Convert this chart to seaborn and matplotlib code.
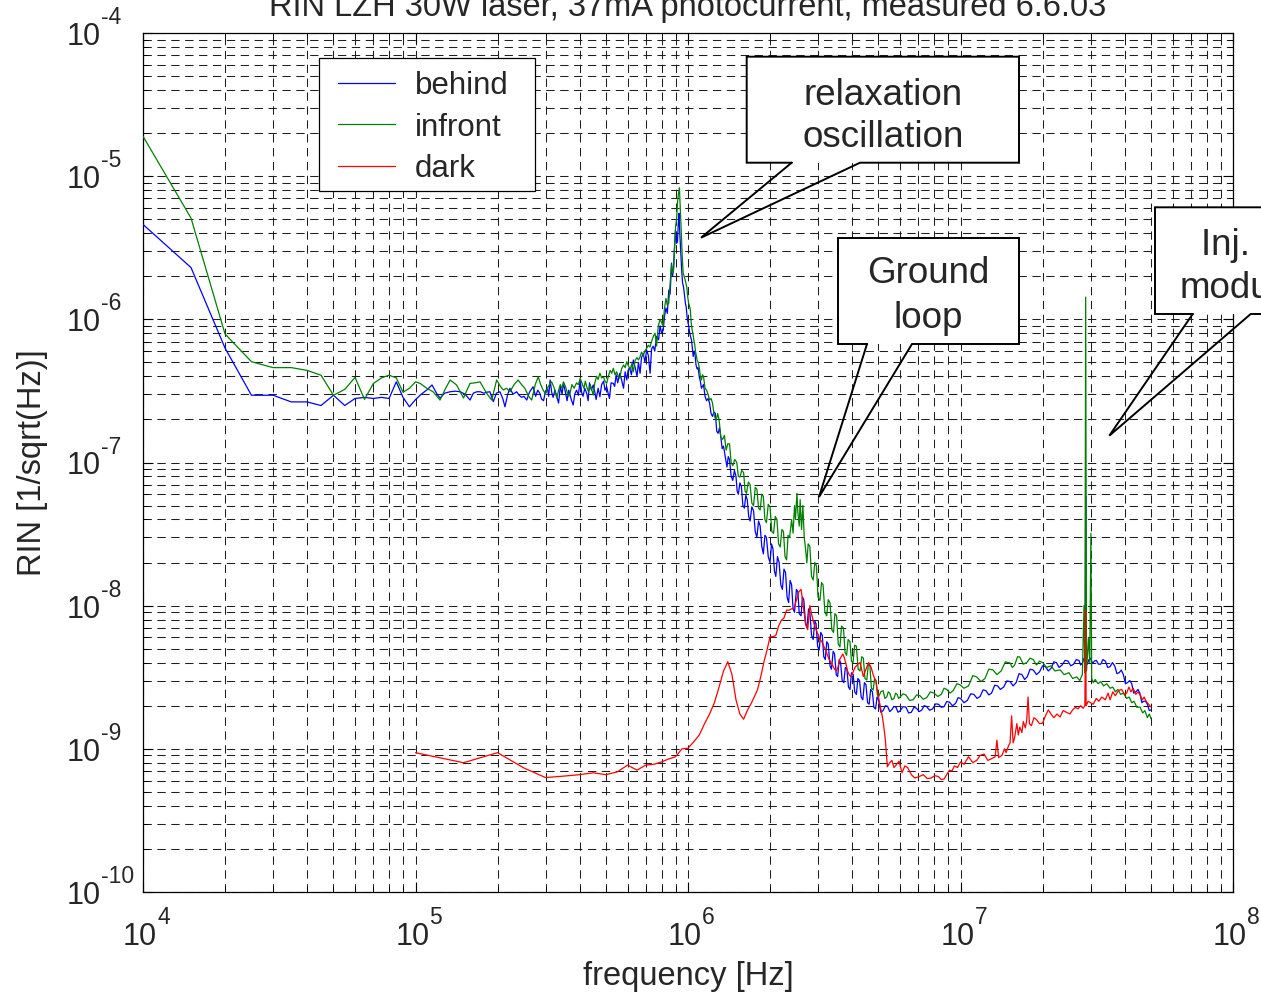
import numpy as np
import pandas as pd
import matplotlib
matplotlib.use("Agg")
import matplotlib.pyplot as plt
import seaborn as sns
from matplotlib.ticker import LogLocator, NullFormatter
from matplotlib.patches import Rectangle
from matplotlib.lines import Line2D
from matplotlib.transforms import blended_transform_factory, offset_copy

# ---------------- texts ----------------
TITLE = "RIN LZH 30W laser, 37mA photocurrent, measured 6.6.03"
XLABEL = "frequency [Hz]"
YLABEL = "RIN [1/sqrt(Hz)]"
SERIES = ["behind", "infront", "dark"]
COLORS = {"behind": "#0000ff", "infront": "#008000", "dark": "#ff0000"}
CALLOUT_RELAX = ["relaxation", "oscillation"]
CALLOUT_GROUND = ["Ground", "loop"]
CALLOUT_INJ = ["Inj. locking", "modulation"]

# ---------------- data: (frequency [Hz], RIN [1/sqrt(Hz)]) ----------------
behind = [
    (1.0e4, 4.6e-6), (1.5e4, 2.3e-6), (2.0e4, 6.3e-7), (2.5e4, 2.95e-7), (3.0e4, 2.95e-7), (3.5e4, 2.65e-7),
    (4.0e4, 2.65e-7), (4.5e4, 2.5e-7), (5.0e4, 2.95e-7), (5.5e4, 2.5e-7), (6.0e4, 2.8e-7), (6.5e4, 2.85e-7),
    (7.0e4, 2.8e-7), (7.5e4, 2.85e-7), (8.0e4, 2.8e-7), (8.5e4, 3.66e-7), (9.0e4, 2.85e-7), (9.5e4, 2.45e-7),
    (1.0e5, 2.75e-7), (1.05e5, 3.0e-7), (1.10e5, 3.21e-7), (1.15e5, 3.48e-7), (1.20e5, 3.0e-7), (1.23e5, 2.82e-7),
    (1.28e5, 3.05e-7), (1.34e5, 3.12e-7), (1.40e5, 3.15e-7), (1.46e5, 3.12e-7), (1.52e5, 3.0e-7), (1.585e5, 2.73e-7),
    (1.63e5, 3.05e-7), (1.68e5, 3.12e-7), (1.73e5, 3.12e-7), (1.78e5, 3.05e-7), (1.83e5, 3.1e-7), (1.875e5, 3.12e-7),
    (1.93e5, 2.66e-7), (1.98e5, 3.05e-7), (2.04e5, 3.12e-7), (2.09e5, 2.8e-7), (2.13e5, 2.45e-7), (2.18e5, 3.0e-7),
    (2.22e5, 3.3e-7), (2.28e5, 3.0e-7), (2.35e5, 3.12e-7), (2.40e5, 2.95e-7), (2.45e5, 2.85e-7), (2.50e5, 2.9e-7),
    (2.56e5, 2.73e-7), (2.62e5, 3.1e-7), (2.70e5, 3.38e-7), (2.76e5, 2.9e-7), (2.81e5, 3.2e-7), (2.86e5, 3.04e-7),
    (2.90e5, 2.78e-7), (2.95e5, 2.7e-7), (3.00e5, 3.15e-7), (3.05e5, 3.3e-7), (3.08e5, 2.9e-7), (3.12e5, 3.77e-7),
    (3.16e5, 3.1e-7), (3.20e5, 2.85e-7), (3.25e5, 3.2e-7), (3.30e5, 2.88e-7), (3.35e5, 2.6e-7), (3.40e5, 3.4e-7),
    (3.45e5, 3.0e-7), (3.49e5, 3.57e-7), (3.55e5, 3.1e-7), (3.60e5, 2.7e-7), (3.65e5, 3.2e-7), (3.69e5, 2.96e-7),
    (3.74e5, 2.7e-7), (3.79e5, 2.52e-7), (3.84e5, 3.0e-7), (3.90e5, 3.2e-7), (3.96e5, 2.95e-7), (4.02e5, 3.77e-7),
    (4.07e5, 3.1e-7), (4.12e5, 2.9e-7), (4.18e5, 3.3e-7), (4.25e5, 3.04e-7), (4.30e5, 2.7e-7), (4.35e5, 3.6e-7),
    (4.42e5, 3.2e-7), (4.49e5, 3.48e-7), (4.55e5, 3.1e-7), (4.60e5, 2.75e-7), (4.68e5, 3.3e-7), (4.75e5, 2.88e-7),
    (4.82e5, 3.5e-7), (4.90e5, 3.7e-7), (4.96e5, 3.2e-7), (5.03e5, 3.38e-7), (5.10e5, 3.0e-7), (5.15e5, 2.8e-7),
    (5.22e5, 3.6e-7), (5.32e5, 3.57e-7), (5.38e5, 3.4e-7), (5.45e5, 4.1e-7), (5.52e5, 3.6e-7), (5.62e5, 4.2e-7),
    (5.70e5, 3.8e-7), (5.80e5, 3.3e-7), (5.88e5, 4.3e-7), (5.96e5, 3.77e-7), (6.03e5, 4.4e-7), (6.10e5, 4.6e-7),
    (6.20e5, 4.1e-7), (6.30e5, 5.2e-7), (6.40e5, 4.6e-7), (6.50e5, 4.0e-7), (6.58e5, 5.0e-7), (6.67e5, 4.2e-7),
    (6.75e5, 5.4e-7), (6.85e5, 5.8e-7), (6.95e5, 5.0e-7), (7.05e5, 6.1e-7), (7.15e5, 5.6e-7), (7.26e5, 4.2e-7),
    (7.35e5, 6.2e-7), (7.45e5, 6.5e-7), (7.55e5, 6.0e-7), (7.67e5, 7.6e-7), (7.80e5, 7.2e-7), (7.90e5, 9.0e-7),
    (8.00e5, 8.0e-7), (8.11e5, 8.4e-7), (8.20e5, 1.05e-6), (8.30e5, 1.2e-6), (8.40e5, 1.1e-6), (8.50e5, 1.6e-6),
    (8.60e5, 1.5e-6), (8.70e5, 2.47e-6), (8.78e5, 2.0e-6), (8.85e5, 2.3e-6), (8.92e5, 3.2e-6), (9.00e5, 4.2e-6),
    (9.08e5, 3.4e-6), (9.15e5, 3.5e-6), (9.22e5, 4.8e-6), (9.27e5, 5.5e-6), (9.33e5, 4.0e-6), (9.40e5, 3.0e-6),
    (9.48e5, 2.2e-6), (9.55e5, 1.8e-6), (9.62e5, 1.7e-6), (9.70e5, 1.5e-6), (9.78e5, 1.3e-6), (9.85e5, 1.22e-6),
    (9.92e5, 1.05e-6), (1.00e6, 9.5e-7), (1.008e6, 8.8e-7), (1.015e6, 8.0e-7), (1.023e6, 7.5e-7), (1.03e6, 7.2e-7),
    (1.038e6, 6.2e-7), (1.045e6, 5.5e-7), (1.053e6, 6.0e-7), (1.06e6, 5.8e-7), (1.07e6, 4.8e-7), (1.08e6, 4.5e-7),
    (1.09e6, 4.6e-7), (1.10e6, 3.95e-7), (1.11e6, 3.7e-7), (1.12e6, 3.3e-7), (1.13e6, 3.4e-7), (1.14e6, 3.5e-7),
    (1.155e6, 2.9e-7), (1.17e6, 2.7e-7), (1.185e6, 2.8e-7), (1.20e6, 2.6e-7), (1.215e6, 2.2e-7), (1.23e6, 2.1e-7),
    (1.245e6, 2.25e-7), (1.26e6, 2.2e-7), (1.275e6, 1.65e-7), (1.29e6, 1.6e-7), (1.305e6, 1.75e-7), (1.32e6, 1.5e-7),
    (1.335e6, 1.25e-7), (1.35e6, 1.3e-7), (1.37e6, 1.1e-7), (1.39e6, 9.3e-8), (1.405e6, 1.1e-7), (1.42e6, 1.05e-7),
    (1.44e6, 8.0e-8), (1.46e6, 7.5e-8), (1.48e6, 8.8e-8), (1.50e6, 8.0e-8), (1.515e6, 6.3e-8), (1.53e6, 6.0e-8),
    (1.55e6, 7.2e-8), (1.57e6, 6.8e-8), (1.59e6, 5.0e-8), (1.61e6, 4.8e-8), (1.63e6, 5.9e-8), (1.65e6, 5.5e-8),
    (1.67e6, 4.2e-8), (1.69e6, 3.9e-8), (1.715e6, 4.9e-8), (1.74e6, 4.6e-8), (1.765e6, 3.3e-8), (1.79e6, 3.0e-8),
    (1.815e6, 3.9e-8), (1.84e6, 3.6e-8), (1.865e6, 2.6e-8), (1.89e6, 2.3e-8), (1.915e6, 3.1e-8), (1.94e6, 3.0e-8),
    (1.97e6, 2.2e-8), (2.00e6, 2.0e-8), (2.025e6, 2.7e-8), (2.05e6, 2.5e-8), (2.075e6, 1.75e-8), (2.10e6, 1.6e-8),
    (2.13e6, 2.2e-8), (2.16e6, 2.0e-8), (2.19e6, 1.4e-8), (2.22e6, 1.3e-8), (2.25e6, 1.8e-8), (2.28e6, 1.7e-8),
    (2.31e6, 1.15e-8), (2.34e6, 1.05e-8), (2.37e6, 1.5e-8), (2.40e6, 1.4e-8), (2.43e6, 9.5e-9), (2.46e6, 9.0e-9),
    (2.50e6, 1.3e-8), (2.53e6, 1.25e-8), (2.56e6, 8.8e-9), (2.60e6, 8.5e-9), (2.63e6, 1.15e-8), (2.66e6, 1.1e-8),
    (2.70e6, 7.5e-9), (2.73e6, 7.0e-9), (2.77e6, 9.5e-9), (2.80e6, 9.0e-9), (2.84e6, 6.2e-9), (2.88e6, 5.8e-9),
    (2.92e6, 7.8e-9), (2.95e6, 7.5e-9), (2.99e6, 5.2e-9), (3.03e6, 4.9e-9), (3.07e6, 6.5e-9), (3.11e6, 6.2e-9),
    (3.15e6, 4.4e-9), (3.19e6, 4.2e-9), (3.23e6, 5.6e-9), (3.27e6, 5.4e-9), (3.32e6, 3.8e-9), (3.36e6, 3.6e-9),
    (3.41e6, 4.8e-9), (3.45e6, 4.6e-9), (3.50e6, 3.3e-9), (3.54e6, 3.2e-9), (3.59e6, 4.2e-9), (3.63e6, 4.0e-9),
    (3.68e6, 3.0e-9), (3.73e6, 2.9e-9), (3.78e6, 3.7e-9), (3.83e6, 3.6e-9), (3.88e6, 2.7e-9), (3.93e6, 2.6e-9),
    (3.98e6, 3.4e-9), (4.04e6, 3.3e-9), (4.09e6, 2.5e-9), (4.15e6, 2.4e-9), (4.20e6, 3.1e-9), (4.26e6, 3.0e-9),
    (4.32e6, 2.3e-9), (4.38e6, 2.2e-9), (4.44e6, 2.9e-9), (4.50e6, 2.8e-9), (4.56e6, 2.1e-9), (4.62e6, 2.05e-9),
    (4.68e6, 2.6e-9), (4.75e6, 2.5e-9), (4.81e6, 1.95e-9), (4.88e6, 1.9e-9), (4.94e6, 2.3e-9), (5.00e6, 2.2e-9),
    (5.1e6, 1.8e-9), (5.2e6, 1.85e-9), (5.3e6, 2.0e-9), (5.4e6, 1.98e-9), (5.5e6, 1.82e-9), (5.6e6, 1.88e-9),
    (5.7e6, 1.98e-9), (5.8e6, 1.95e-9), (5.9e6, 1.8e-9), (6.0e6, 1.84e-9), (6.15e6, 1.97e-9), (6.3e6, 1.96e-9),
    (6.45e6, 1.78e-9), (6.6e6, 1.8e-9), (6.75e6, 1.95e-9), (6.9e6, 1.92e-9), (7.05e6, 1.82e-9), (7.2e6, 1.86e-9),
    (7.35e6, 2.0e-9), (7.5e6, 1.98e-9), (7.7e6, 1.86e-9), (7.9e6, 1.9e-9), (8.1e6, 2.06e-9), (8.3e6, 2.05e-9),
    (8.5e6, 1.95e-9), (8.7e6, 1.97e-9), (8.9e6, 2.14e-9), (9.1e6, 2.12e-9), (9.35e6, 2.0e-9), (9.6e6, 2.08e-9),
    (9.8e6, 2.28e-9), (1.0e7, 2.25e-9), (1.03e7, 2.1e-9), (1.06e7, 2.18e-9), (1.09e7, 2.42e-9), (1.12e7, 2.4e-9),
    (1.15e7, 2.25e-9), (1.18e7, 2.32e-9), (1.21e7, 2.58e-9), (1.24e7, 2.55e-9), (1.27e7, 2.38e-9), (1.30e7, 2.45e-9),
    (1.335e7, 2.78e-9), (1.37e7, 2.75e-9), (1.40e7, 2.6e-9), (1.44e7, 2.7e-9), (1.48e7, 2.98e-9), (1.52e7, 2.95e-9),
    (1.56e7, 2.75e-9), (1.60e7, 2.9e-9), (1.64e7, 3.35e-9), (1.68e7, 3.3e-9), (1.72e7, 3.05e-9), (1.76e7, 3.2e-9),
    (1.80e7, 3.6e-9), (1.85e7, 3.55e-9), (1.90e7, 3.3e-9), (1.95e7, 3.45e-9), (2.0e7, 3.8e-9), (2.05e7, 3.75e-9),
    (2.10e7, 3.5e-9), (2.15e7, 3.65e-9), (2.20e7, 4.05e-9), (2.25e7, 4.0e-9), (2.30e7, 3.7e-9), (2.36e7, 3.85e-9),
    (2.42e7, 4.15e-9), (2.48e7, 4.1e-9), (2.54e7, 3.8e-9), (2.60e7, 3.9e-9), (2.66e7, 4.2e-9), (2.72e7, 4.15e-9),
    (2.76e7, 3.85e-9), (2.80e7, 3.95e-9), (2.84e7, 4.3e-9), (2.87e7, 4.0e-9), (2.88e7, 5.8e-8), (2.89e7, 4.1e-9),
    (2.92e7, 3.9e-9), (2.96e7, 4.2e-9), (3.00e7, 4.3e-9), (3.05e7, 3.95e-9), (3.10e7, 4.1e-9), (3.15e7, 4.15e-9),
    (3.21e7, 3.9e-9), (3.27e7, 3.9e-9), (3.33e7, 4.2e-9), (3.40e7, 4.1e-9), (3.47e7, 3.7e-9), (3.54e7, 3.75e-9),
    (3.61e7, 4.0e-9), (3.68e7, 3.8e-9), (3.75e7, 3.35e-9), (3.82e7, 3.4e-9), (3.89e7, 3.55e-9), (3.96e7, 3.3e-9),
    (4.03e7, 2.85e-9), (4.10e7, 2.9e-9), (4.18e7, 3.0e-9), (4.25e7, 2.85e-9), (4.32e7, 2.45e-9), (4.40e7, 2.5e-9),
    (4.48e7, 2.6e-9), (4.55e7, 2.45e-9), (4.63e7, 2.1e-9), (4.70e7, 2.15e-9), (4.78e7, 2.15e-9), (4.85e7, 2.05e-9),
    (4.93e7, 1.85e-9), (5.0e7, 1.87e-9),
]

infront = [
    (1.0e4, 1.9e-5), (1.5e4, 5.1e-6), (2.0e4, 7.9e-7), (2.5e4, 5.06e-7), (3.0e4, 4.6e-7), (3.5e4, 4.6e-7),
    (4.0e4, 4.4e-7), (4.5e4, 4.07e-7), (5.0e4, 2.95e-7), (5.5e4, 3.24e-7), (6.0e4, 3.93e-7), (6.5e4, 2.76e-7),
    (7.0e4, 3.56e-7), (7.5e4, 3.9e-7), (8.0e4, 4.07e-7), (8.5e4, 3.9e-7), (9.0e4, 3.1e-7), (9.5e4, 3.3e-7),
    (1.0e5, 3.66e-7), (1.04e5, 3.57e-7), (1.10e5, 3.3e-7), (1.16e5, 3.12e-7), (1.23e5, 2.73e-7), (1.29e5, 3.3e-7),
    (1.34e5, 3.77e-7), (1.415e5, 3.48e-7), (1.50e5, 2.82e-7), (1.585e5, 3.57e-7), (1.65e5, 3.6e-7), (1.725e5, 3.66e-7),
    (1.825e5, 3.04e-7), (1.905e5, 2.73e-7), (1.985e5, 3.77e-7), (2.05e5, 3.4e-7), (2.10e5, 3.21e-7), (2.16e5, 3.3e-7),
    (2.22e5, 3.12e-7), (2.30e5, 3.5e-7), (2.38e5, 3.77e-7), (2.45e5, 3.5e-7), (2.52e5, 3.3e-7), (2.60e5, 2.9e-7),
    (2.67e5, 2.73e-7), (2.75e5, 3.5e-7), (2.82e5, 3.97e-7), (2.88e5, 3.5e-7), (2.94e5, 3.21e-7), (3.00e5, 3.0e-7),
    (3.05e5, 3.3e-7), (3.10e5, 3.5e-7), (3.16e5, 3.66e-7), (3.23e5, 3.3e-7), (3.30e5, 2.82e-7), (3.35e5, 3.2e-7),
    (3.40e5, 3.5e-7), (3.45e5, 3.3e-7), (3.49e5, 3.66e-7), (3.55e5, 3.4e-7), (3.60e5, 3.1e-7), (3.65e5, 2.9e-7),
    (3.69e5, 3.04e-7), (3.75e5, 3.5e-7), (3.82e5, 3.3e-7), (3.90e5, 3.6e-7), (3.96e5, 3.5e-7), (4.02e5, 3.87e-7),
    (4.08e5, 3.6e-7), (4.15e5, 3.3e-7), (4.20e5, 3.7e-7), (4.25e5, 3.38e-7), (4.32e5, 3.1e-7), (4.38e5, 3.5e-7),
    (4.44e5, 3.2e-7), (4.49e5, 2.96e-7), (4.55e5, 3.6e-7), (4.62e5, 4.0e-7), (4.68e5, 3.8e-7), (4.75e5, 4.2e-7),
    (4.82e5, 3.9e-7), (4.90e5, 3.95e-7), (4.96e5, 3.7e-7), (5.03e5, 3.57e-7), (5.10e5, 4.0e-7), (5.18e5, 4.4e-7),
    (5.25e5, 4.2e-7), (5.32e5, 4.55e-7), (5.40e5, 4.1e-7), (5.47e5, 4.3e-7), (5.55e5, 4.0e-7), (5.62e5, 3.87e-7),
    (5.70e5, 4.5e-7), (5.80e5, 4.8e-7), (5.88e5, 4.6e-7), (5.96e5, 5.06e-7), (6.05e5, 4.7e-7), (6.15e5, 4.5e-7),
    (6.22e5, 4.9e-7), (6.30e5, 4.3e-7), (6.40e5, 5.2e-7), (6.50e5, 5.4e-7), (6.58e5, 5.2e-7), (6.67e5, 5.48e-7),
    (6.75e5, 5.9e-7), (6.85e5, 5.6e-7), (6.95e5, 6.0e-7), (7.05e5, 6.27e-7), (7.15e5, 6.6e-7), (7.25e5, 6.4e-7),
    (7.35e5, 7.0e-7), (7.46e5, 7.6e-7), (7.57e5, 8.0e-7), (7.67e5, 6.5e-7), (7.78e5, 9.0e-7), (7.90e5, 1.0e-6),
    (8.00e5, 9.5e-7), (8.10e5, 9.0e-7), (8.20e5, 1.2e-6), (8.30e5, 1.4e-6), (8.40e5, 1.25e-6), (8.50e5, 1.3e-6),
    (8.60e5, 1.8e-6), (8.70e5, 2.4e-6), (8.78e5, 2.1e-6), (8.85e5, 2.2e-6), (8.92e5, 3.0e-6), (9.00e5, 4.4e-6),
    (9.08e5, 5.0e-6), (9.15e5, 6.5e-6), (9.22e5, 7.5e-6), (9.30e5, 8.3e-6), (9.37e5, 6.0e-6), (9.45e5, 4.0e-6),
    (9.52e5, 2.8e-6), (9.60e5, 2.1e-6), (9.68e5, 2.0e-6), (9.75e5, 1.9e-6), (9.82e5, 1.8e-6), (9.90e5, 1.68e-6),
    (9.97e5, 1.45e-6), (1.005e6, 1.3e-6), (1.012e6, 1.25e-6), (1.02e6, 1.16e-6), (1.027e6, 9.5e-7), (1.035e6, 8.5e-7),
    (1.042e6, 8.0e-7), (1.05e6, 7.2e-7), (1.057e6, 6.8e-7), (1.065e6, 6.0e-7), (1.072e6, 5.6e-7), (1.08e6, 5.2e-7),
    (1.09e6, 5.0e-7), (1.10e6, 4.6e-7), (1.11e6, 4.0e-7), (1.12e6, 3.77e-7), (1.13e6, 4.1e-7), (1.14e6, 4.0e-7),
    (1.155e6, 3.3e-7), (1.17e6, 3.2e-7), (1.185e6, 3.0e-7), (1.20e6, 2.73e-7), (1.215e6, 2.8e-7), (1.23e6, 2.6e-7),
    (1.25e6, 2.1e-7), (1.27e6, 1.98e-7), (1.285e6, 2.2e-7), (1.30e6, 2.0e-7), (1.32e6, 1.5e-7), (1.34e6, 1.45e-7),
    (1.36e6, 1.55e-7), (1.38e6, 1.22e-7), (1.40e6, 1.35e-7), (1.42e6, 1.35e-7), (1.44e6, 1.0e-7), (1.46e6, 9.5e-8),
    (1.485e6, 1.05e-7), (1.51e6, 1.0e-7), (1.53e6, 8.0e-8), (1.55e6, 7.9e-8), (1.575e6, 8.8e-8), (1.60e6, 8.5e-8),
    (1.62e6, 6.3e-8), (1.64e6, 6.1e-8), (1.665e6, 7.3e-8), (1.69e6, 7.0e-8), (1.715e6, 5.2e-8), (1.74e6, 5.0e-8),
    (1.765e6, 6.7e-8), (1.79e6, 6.5e-8), (1.815e6, 4.8e-8), (1.84e6, 4.66e-8), (1.865e6, 6.0e-8), (1.89e6, 5.8e-8),
    (1.915e6, 4.0e-8), (1.94e6, 3.8e-8), (1.97e6, 5.1e-8), (2.00e6, 4.9e-8), (2.03e6, 3.3e-8), (2.06e6, 3.2e-8),
    (2.09e6, 4.2e-8), (2.12e6, 4.0e-8), (2.15e6, 2.7e-8), (2.18e6, 2.57e-8), (2.21e6, 3.4e-8), (2.24e6, 3.3e-8),
    (2.27e6, 2.2e-8), (2.30e6, 2.09e-8), (2.33e6, 3.1e-8), (2.36e6, 3.0e-8), (2.40e6, 4.0e-8), (2.43e6, 3.21e-8),
    (2.46e6, 5.0e-8), (2.48e6, 4.0e-8), (2.51e6, 6.1e-8), (2.53e6, 4.5e-8), (2.56e6, 3.6e-8), (2.58e6, 5.5e-8),
    (2.61e6, 3.4e-8), (2.64e6, 5.0e-8), (2.67e6, 3.0e-8), (2.70e6, 2.5e-8), (2.73e6, 1.99e-8), (2.76e6, 2.7e-8),
    (2.80e6, 2.6e-8), (2.84e6, 1.6e-8), (2.88e6, 1.51e-8), (2.92e6, 2.0e-8), (2.96e6, 1.9e-8), (3.00e6, 1.15e-8),
    (3.05e6, 1.09e-8), (3.09e6, 1.45e-8), (3.13e6, 1.4e-8), (3.18e6, 9.0e-9), (3.23e6, 8.5e-9), (3.27e6, 1.1e-8),
    (3.32e6, 1.05e-8), (3.37e6, 6.8e-9), (3.42e6, 6.5e-9), (3.46e6, 8.8e-9), (3.51e6, 8.5e-9), (3.56e6, 5.4e-9),
    (3.61e6, 5.15e-9), (3.66e6, 7.2e-9), (3.72e6, 7.0e-9), (3.77e6, 4.7e-9), (3.82e6, 4.5e-9), (3.87e6, 5.8e-9),
    (3.93e6, 5.6e-9), (3.98e6, 4.1e-9), (4.03e6, 3.98e-9), (4.09e6, 5.3e-9), (4.15e6, 5.2e-9), (4.21e6, 3.6e-9),
    (4.28e6, 3.5e-9), (4.34e6, 4.4e-9), (4.40e6, 4.3e-9), (4.46e6, 3.1e-9), (4.53e6, 3.03e-9), (4.59e6, 3.9e-9),
    (4.65e6, 3.8e-9), (4.71e6, 2.65e-9), (4.78e6, 2.58e-9), (4.84e6, 3.1e-9), (4.90e6, 3.0e-9), (4.95e6, 2.4e-9),
    (5.0e6, 2.3e-9), (5.1e6, 2.5e-9), (5.2e6, 2.55e-9), (5.28e6, 2.25e-9), (5.36e6, 2.3e-9), (5.43e6, 2.5e-9),
    (5.5e6, 2.45e-9), (5.6e6, 2.2e-9), (5.7e6, 2.25e-9), (5.78e6, 2.45e-9), (5.85e6, 2.4e-9), (5.93e6, 2.25e-9),
    (6.0e6, 2.3e-9), (6.15e6, 2.42e-9), (6.3e6, 2.38e-9), (6.5e6, 2.18e-9), (6.7e6, 2.2e-9), (6.9e6, 2.38e-9),
    (7.1e6, 2.35e-9), (7.3e6, 2.22e-9), (7.52e6, 2.28e-9), (7.75e6, 2.5e-9), (8.0e6, 2.45e-9), (8.25e6, 2.32e-9),
    (8.5e6, 2.4e-9), (8.7e6, 2.65e-9), (8.9e6, 2.6e-9), (9.15e6, 2.45e-9), (9.4e6, 2.55e-9), (9.7e6, 2.85e-9),
    (9.96e6, 2.8e-9), (1.03e7, 2.65e-9), (1.07e7, 2.75e-9), (1.11e7, 3.25e-9), (1.146e7, 3.18e-9), (1.19e7, 2.95e-9),
    (1.23e7, 3.1e-9), (1.27e7, 3.6e-9), (1.315e7, 3.56e-9), (1.36e7, 3.3e-9), (1.41e7, 3.5e-9), (1.46e7, 4.05e-9),
    (1.52e7, 3.98e-9), (1.55e7, 3.7e-9), (1.58e7, 3.85e-9), (1.62e7, 4.4e-9), (1.65e7, 4.38e-9), (1.70e7, 3.9e-9),
    (1.75e7, 4.0e-9), (1.80e7, 4.3e-9), (1.85e7, 4.2e-9), (1.90e7, 3.85e-9), (1.95e7, 4.1e-9), (2.01e7, 3.98e-9),
    (2.07e7, 3.7e-9), (2.15e7, 3.8e-9), (2.22e7, 3.5e-9), (2.32e7, 3.56e-9), (2.40e7, 3.3e-9), (2.50e7, 3.4e-9),
    (2.58e7, 3.1e-9), (2.67e7, 3.18e-9), (2.74e7, 3.0e-9), (2.80e7, 3.3e-9), (2.84e7, 1.0e-8), (2.86e7, 3.4e-9),
    (2.88e7, 1.43e-6), (2.90e7, 3.5e-9), (2.95e7, 6.0e-9), (2.98e7, 4.0e-9), (3.01e7, 3.2e-8), (3.03e7, 3.1e-9),
    (3.07e7, 2.9e-9), (3.12e7, 3.05e-9), (3.20e7, 2.85e-9), (3.27e7, 2.95e-9), (3.35e7, 2.75e-9), (3.44e7, 2.85e-9),
    (3.54e7, 2.65e-9), (3.62e7, 2.7e-9), (3.70e7, 2.5e-9), (3.78e7, 2.6e-9), (3.87e7, 2.4e-9), (3.96e7, 2.45e-9),
    (4.07e7, 2.25e-9), (4.16e7, 2.3e-9), (4.25e7, 2.1e-9), (4.33e7, 2.15e-9), (4.44e7, 1.95e-9), (4.56e7, 1.96e-9),
    (4.66e7, 1.78e-9), (4.75e7, 1.85e-9), (4.85e7, 1.65e-9), (4.93e7, 1.75e-9), (5.0e7, 1.62e-9),
]

dark = [
    (1.0e5, 9.4e-10), (1.5e5, 8.0e-10), (2.0e5, 9.4e-10), (2.5e5, 7.35e-10), (3.0e5, 6.3e-10), (3.5e5, 6.45e-10),
    (4.0e5, 6.6e-10), (4.5e5, 6.8e-10), (5.0e5, 6.6e-10), (5.5e5, 6.9e-10), (6.0e5, 7.7e-10), (6.5e5, 7.1e-10),
    (7.0e5, 7.7e-10), (7.5e5, 7.8e-10), (8.0e5, 8.1e-10), (8.5e5, 8.5e-10), (9.0e5, 8.8e-10), (9.5e5, 1.0e-9),
    (1.0e6, 1.01e-9), (1.05e6, 1.12e-9), (1.1e6, 1.25e-9), (1.15e6, 1.5e-9), (1.2e6, 1.75e-9), (1.25e6, 2.1e-9),
    (1.3e6, 2.7e-9), (1.35e6, 3.5e-9), (1.4e6, 4.06e-9), (1.45e6, 3.3e-9), (1.5e6, 2.2e-9), (1.55e6, 1.75e-9),
    (1.6e6, 1.61e-9), (1.65e6, 1.85e-9), (1.7e6, 2.05e-9), (1.75e6, 2.3e-9), (1.8e6, 2.6e-9), (1.85e6, 3.2e-9),
    (1.9e6, 4.06e-9), (1.95e6, 4.9e-9), (2.0e6, 6.07e-9), (2.05e6, 6.07e-9), (2.1e6, 6.2e-9), (2.15e6, 7.2e-9),
    (2.2e6, 7.9e-9), (2.25e6, 8.2e-9), (2.3e6, 9.3e-9), (2.35e6, 9.3e-9), (2.4e6, 9.5e-9), (2.45e6, 9.6e-9),
    (2.5e6, 1.1e-8), (2.55e6, 1.25e-8), (2.6e6, 1.3e-8), (2.65e6, 9.8e-9), (2.7e6, 7.5e-9), (2.75e6, 6.8e-9),
    (2.8e6, 1.0e-8), (2.85e6, 8.5e-9), (2.9e6, 7.5e-9), (2.95e6, 6.8e-9), (3.0e6, 6.3e-9), (3.05e6, 5.8e-9),
    (3.1e6, 5.6e-9), (3.15e6, 5.2e-9), (3.2e6, 4.9e-9), (3.25e6, 4.5e-9), (3.3e6, 4.2e-9), (3.35e6, 4.0e-9),
    (3.4e6, 3.8e-9), (3.45e6, 3.6e-9), (3.5e6, 3.5e-9), (3.55e6, 3.7e-9), (3.6e6, 4.2e-9), (3.65e6, 4.4e-9),
    (3.7e6, 4.6e-9), (3.75e6, 4.3e-9), (3.8e6, 3.9e-9), (3.85e6, 3.5e-9), (3.9e6, 3.3e-9), (3.95e6, 3.2e-9),
    (4.0e6, 3.3e-9), (4.1e6, 3.7e-9), (4.2e6, 3.9e-9), (4.28e6, 4.0e-9), (4.35e6, 3.5e-9), (4.4e6, 3.2e-9),
    (4.5e6, 3.6e-9), (4.6e6, 4.0e-9), (4.7e6, 3.7e-9), (4.78e6, 3.3e-9), (4.9e6, 2.9e-9), (5.0e6, 2.3e-9),
    (5.1e6, 1.9e-9), (5.17e6, 1.67e-9), (5.25e6, 1.35e-9), (5.3e6, 1.15e-9), (5.35e6, 9.0e-10), (5.39e6, 7.5e-10),
    (5.5e6, 8.0e-10), (5.6e6, 8.3e-10), (5.7e6, 7.4e-10), (5.8e6, 7.7e-10), (5.95e6, 8.2e-10), (6.1e6, 6.8e-10),
    (6.25e6, 7.6e-10), (6.4e6, 7.4e-10), (6.6e6, 6.6e-10), (6.8e6, 6.25e-10), (7.05e6, 6.4e-10), (7.3e6, 6.6e-10),
    (7.55e6, 6.2e-10), (7.8e6, 6.25e-10), (8.05e6, 6.5e-10), (8.3e6, 6.4e-10), (8.5e6, 6.1e-10), (8.7e6, 6.15e-10),
    (8.9e6, 6.6e-10), (9.1e6, 7.1e-10), (9.3e6, 7.0e-10), (9.5e6, 7.6e-10), (9.75e6, 7.4e-10), (1.0e7, 8.1e-10),
    (1.03e7, 7.8e-10), (1.07e7, 8.8e-10), (1.11e7, 8.0e-10), (1.15e7, 8.35e-10), (1.18e7, 9.0e-10), (1.22e7, 9.2e-10),
    (1.26e7, 8.3e-10), (1.31e7, 8.6e-10), (1.34e7, 8.8e-10), (1.36e7, 1.15e-9), (1.38e7, 8.7e-10), (1.42e7, 9.0e-10),
    (1.45e7, 1.0e-9), (1.47e7, 9.4e-10), (1.50e7, 1.05e-9), (1.52e7, 1.1e-9), (1.54e7, 1.7e-9), (1.56e7, 1.1e-9),
    (1.58e7, 1.2e-9), (1.61e7, 1.5e-9), (1.63e7, 1.25e-9), (1.65e7, 1.42e-9), (1.68e7, 1.3e-9), (1.70e7, 1.55e-9),
    (1.73e7, 1.4e-9), (1.75e7, 1.59e-9), (1.77e7, 2.3e-9), (1.79e7, 1.5e-9), (1.82e7, 1.45e-9), (1.86e7, 1.65e-9),
    (1.9e7, 1.6e-9), (1.95e7, 1.5e-9), (2.0e7, 1.51e-9), (2.05e7, 1.7e-9), (2.1e7, 1.87e-9), (2.15e7, 1.75e-9),
    (2.2e7, 1.65e-9), (2.26e7, 1.75e-9), (2.32e7, 1.67e-9), (2.38e7, 1.85e-9), (2.45e7, 1.8e-9), (2.52e7, 1.75e-9),
    (2.58e7, 1.87e-9), (2.64e7, 1.95e-9), (2.7e7, 1.9e-9), (2.76e7, 2.0e-9), (2.82e7, 1.92e-9), (2.86e7, 2.0e-9),
    (2.88e7, 9.3e-9), (2.89e7, 2.0e-9), (2.94e7, 2.15e-9), (3.0e7, 2.1e-9), (3.07e7, 2.05e-9), (3.15e7, 2.25e-9),
    (3.22e7, 2.15e-9), (3.3e7, 2.3e-9), (3.4e7, 2.2e-9), (3.48e7, 2.45e-9), (3.54e7, 2.2e-9), (3.62e7, 2.5e-9),
    (3.7e7, 2.35e-9), (3.8e7, 2.55e-9), (3.9e7, 2.6e-9), (4.0e7, 2.4e-9), (4.07e7, 2.45e-9), (4.15e7, 2.7e-9),
    (4.22e7, 2.5e-9), (4.3e7, 2.65e-9), (4.4e7, 2.4e-9), (4.48e7, 2.5e-9), (4.56e7, 2.38e-9), (4.65e7, 2.2e-9),
    (4.72e7, 2.3e-9), (4.8e7, 2.15e-9), (4.9e7, 2.05e-9), (5.0e7, 1.96e-9),
]

XLIM = (1e4, 1e8)
YLIM = (1e-10, 1e-4)

# ---------------- style ----------------
sns.set_style("ticks")
plt.rcParams.update({
    "font.family": ["Liberation Sans", "DejaVu Sans"],
    "lines.scale_dashes": False,
    "axes.edgecolor": "black",
    "axes.linewidth": 0.9,
})

W, H = 1261, 994
fig = plt.figure(figsize=(W / 100, H / 100), dpi=100)
fig.patch.set_facecolor("white")
ax = fig.add_axes([143 / W, 1 - 892 / H, 1090 / W, 859 / H])


def fx(x, y):
    """pixel position (from top-left) -> figure fraction"""
    return (x / W, 1 - y / H)


frames = []
for name, data in zip(SERIES, [behind, infront, dark]):
    f, v = zip(*data)
    frames.append(pd.DataFrame({"frequency": f, "rin": v, "series": name}))
df = pd.concat(frames, ignore_index=True)

sns.lineplot(data=df, x="frequency", y="rin", hue="series", hue_order=SERIES,
             palette=COLORS, estimator=None, sort=False, linewidth=0.9,
             ax=ax, legend=False, zorder=3)

ax.set_xscale("log")
ax.set_yscale("log")
ax.set_xlim(*XLIM)
ax.set_ylim(*YLIM)

for axis in (ax.xaxis, ax.yaxis):
    axis.set_major_locator(LogLocator(base=10, numticks=20))
    axis.set_minor_locator(LogLocator(base=10, subs=np.arange(2, 10), numticks=200))
    axis.set_major_formatter(NullFormatter())
    axis.set_minor_formatter(NullFormatter())

ax.set_axisbelow(True)
ax.grid(True, which="both", color="0.12", linestyle=(0, (6, 4)), linewidth=0.75)
ax.tick_params(which="both", direction="in", top=True, right=True, colors="black")
ax.tick_params(which="major", length=7, width=0.8)
ax.tick_params(which="minor", length=3.5, width=0.7)
for s in ax.spines.values():
    s.set_visible(True)
    s.set_color("black")

# MATLAB-style power-of-ten tick labels ("10" + raised exponent)
BASE_FS, EXP_FS = 22, 16.5
xtr = blended_transform_factory(ax.transData, fig.transFigure)
for v in ax.get_xticks():
    if XLIM[0] <= v <= XLIM[1]:
        e = int(round(np.log10(v)))
        ax.text(v, 1 - 945 / H, "10", transform=offset_copy(xtr, fig=fig, x=-20, y=0, units="dots"),
                ha="left", va="baseline", fontsize=BASE_FS, clip_on=False)
        ax.text(v, 1 - 924 / H, str(e), transform=offset_copy(xtr, fig=fig, x=14, y=0, units="dots"),
                ha="left", va="baseline", fontsize=EXP_FS, clip_on=False)
ytr = blended_transform_factory(fig.transFigure, ax.transData)
for v in ax.get_yticks():
    if YLIM[0] <= v <= YLIM[1]:
        e = int(round(np.log10(v)))
        ax.text(67 / W, v, "10", transform=offset_copy(ytr, fig=fig, x=0, y=-12, units="dots"),
                ha="left", va="baseline", fontsize=BASE_FS, clip_on=False)
        ax.text(101 / W, v, str(e), transform=offset_copy(ytr, fig=fig, x=0, y=9, units="dots"),
                ha="left", va="baseline", fontsize=EXP_FS, clip_on=False)

ax.set_xlabel(XLABEL, fontsize=23.5)
ax.xaxis.set_label_coords(0.5, -0.080)
ax.set_ylabel(YLABEL, fontsize=23.5)
ax.yaxis.set_label_coords(-0.087, 0.5)

fig.text(*fx(688, 16), TITLE, ha="center", va="baseline", fontsize=23.5)

# ---------------- legend (MATLAB style box) ----------------
lx0, ly0, lx1, ly1 = 319, 58, 535, 191
fig.patches.append(Rectangle(fx(lx0, ly1), (lx1 - lx0) / W, (ly1 - ly0) / H,
                             transform=fig.transFigure, facecolor="white",
                             edgecolor="black", linewidth=0.9, zorder=10))
for i, name in enumerate(SERIES):
    yy = 82.5 + i * 41.7
    (a, b), (c, d) = fx(337.5, yy), fx(394.5, yy)
    fig.lines.append(Line2D([a, c], [b, d], transform=fig.transFigure,
                            color=COLORS[name], linewidth=0.9, zorder=11))
    fig.text(*fx(415, yy), name, ha="left", va="center_baseline", fontsize=22.5, zorder=11)


# ---------------- callouts ----------------
def callout(box, base1, base2, tip, lines, text_pos, ha="center"):
    x0, y0, x1, y1 = box
    fig.patches.append(Rectangle(fx(x0, y1), (x1 - x0) / W, (y1 - y0) / H,
                                 transform=fig.transFigure, facecolor="white",
                                 edgecolor="none", zorder=10))
    pts = [base1, (x0, y1), (x0, y0), (x1, y0), (x1, y1), base2, tip, base1]
    xs = [p[0] / W for p in pts]
    ys = [1 - p[1] / H for p in pts]
    fig.lines.append(Line2D(xs, ys, transform=fig.transFigure, color="black",
                            linewidth=1.4, solid_joinstyle="miter", zorder=11))
    for txt, (tx, ty) in zip(lines, text_pos):
        fig.text(*fx(tx, ty), txt, ha=ha, va="baseline", fontsize=26.5, zorder=12)


callout((746.7, 56.7, 1019, 162.7), (791.7, 162.7), (860, 162.7), (701, 237.7),
        CALLOUT_RELAX, [(883, 105), (883, 147)])
callout((838, 238, 1019, 344), (867, 344), (912, 344), (819, 497),
        CALLOUT_GROUND, [(928.5, 283), (928.5, 328)])
callout((1155, 207.3, 1330, 314), (1192.7, 314), (1250.7, 314), (1109.3, 435.7),
        CALLOUT_INJ, [(1201, 255), (1180, 298)], ha="left")

fig.savefig("out.png", dpi=100, facecolor="white")
